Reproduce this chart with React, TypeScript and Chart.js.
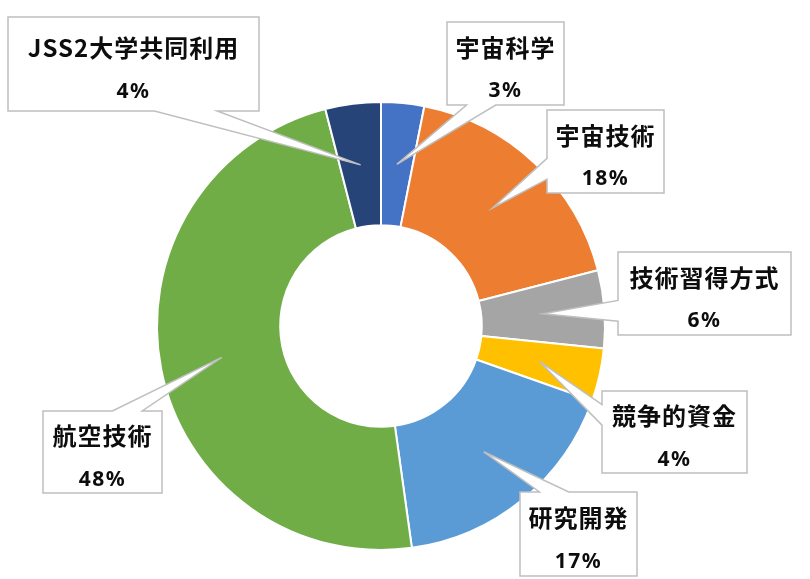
import { useEffect, useRef } from "react";
import { Chart, registerables } from "chart.js";

Chart.register(...registerables);

const categories = ["宇宙科学", "宇宙技術", "技術習得方式", "競争的資金", "研究開発", "航空技術", "JSS2大学共同利用"];
const shares = [3.1, 17.9, 5.6, 3.8, 17.4, 48.2, 4.0];
const colors = ["#4472C4", "#ED7D31", "#A5A5A5", "#FFC000", "#5B9BD5", "#70AD47", "#264478"];

// callout boxes (left, top, width, height) in canvas px, same order as categories
const calloutBoxes = [
  [447, 22, 117, 83],
  [547, 110, 117, 83],
  [618, 252, 173, 83],
  [602, 391, 145, 82],
  [520, 492, 117, 84],
  [43, 411, 119, 82],
  [8, 17, 251, 94],
];

// office-style wedge callout: rectangle with a pointer towards the slice centre
const calloutPlugin = {
  id: "callouts",
  afterDatasetsDraw(chart: any) {
    const ctx = chart.ctx as CanvasRenderingContext2D;
    const meta = chart.getDatasetMeta(0);
    const values = chart.data.datasets[0].data as number[];
    const total = values.reduce((a, b) => a + b, 0);

    meta.data.forEach((arc: any, i: number) => {
      const tip = arc.getCenterPoint();
      const [l, t, w, h] = calloutBoxes[i];
      const r = l + w;
      const b = t + h;
      const hc = l + w / 2;
      const vc = t + h / 2;
      const dx = tip.x - hc;
      const dy = tip.y - vc;
      const vertical = Math.abs(dy) > Math.abs((dx * h) / w);
      const x1 = l + (w * (dx > 0 ? 7 : 2)) / 12;
      const x2 = l + (w * (dx > 0 ? 10 : 5)) / 12;
      const y1 = t + (h * (dy > 0 ? 7 : 2)) / 12;
      const y2 = t + (h * (dy > 0 ? 10 : 5)) / 12;

      ctx.save();
      ctx.beginPath();
      ctx.moveTo(l, t);
      if (vertical && dy < 0) {
        ctx.lineTo(x1, t);
        ctx.lineTo(tip.x, tip.y);
        ctx.lineTo(x2, t);
      }
      ctx.lineTo(r, t);
      if (!vertical && dx > 0) {
        ctx.lineTo(r, y1);
        ctx.lineTo(tip.x, tip.y);
        ctx.lineTo(r, y2);
      }
      ctx.lineTo(r, b);
      if (vertical && dy > 0) {
        ctx.lineTo(x2, b);
        ctx.lineTo(tip.x, tip.y);
        ctx.lineTo(x1, b);
      }
      ctx.lineTo(l, b);
      if (!vertical && dx < 0) {
        ctx.lineTo(l, y2);
        ctx.lineTo(tip.x, tip.y);
        ctx.lineTo(l, y1);
      }
      ctx.closePath();
      ctx.fillStyle = "#ffffff";
      ctx.fill();
      ctx.strokeStyle = "#bfbfbf";
      ctx.lineWidth = 1.5;
      ctx.stroke();

      ctx.fillStyle = "#0d0d0d";
      ctx.textAlign = "center";
      ctx.textBaseline = "middle";
      (ctx as any).letterSpacing = "1px";
      ctx.font = 'bold 24px "Noto Sans CJK JP", sans-serif';
      ctx.fillText(chart.data.labels[i], hc, vc - 16);
      (ctx as any).letterSpacing = "1.5px";
      ctx.font = 'bold 21px "Noto Sans", sans-serif';
      ctx.textBaseline = "alphabetic";
      ctx.fillText(`${Math.round((values[i] / total) * 100)}%`, hc, vc + 33.5);
      ctx.restore();
    });
  },
};

export default function App() {
  const canvasRef = useRef<HTMLCanvasElement | null>(null);
  const chartRef = useRef<Chart | null>(null);

  useEffect(() => {
    document.body.style.margin = "0";
    if (!canvasRef.current) return;
    const ctx = canvasRef.current.getContext("2d");
    if (!ctx) return;

    if (chartRef.current) chartRef.current.destroy();

    chartRef.current = new Chart(ctx, {
      type: "doughnut",
      data: {
        labels: categories,
        datasets: [
          {
            data: shares,
            backgroundColor: colors,
            borderColor: "#ffffff",
            borderWidth: 2,
          },
        ],
      },
      options: {
        responsive: true,
        maintainAspectRatio: false,
        animation: false,
        cutout: "45%",
        layout: { padding: { top: 101, bottom: 28, left: 156, right: 204 } },
        plugins: {
          legend: { display: false },
          tooltip: { enabled: false },
        },
      },
      plugins: [calloutPlugin],
    });

    return () => chartRef.current?.destroy();
  }, []);

  return (
    <div style={{ position: "relative", width: 810, height: 579, background: "#ffffff" }}>
      <canvas ref={canvasRef} />
    </div>
  );
}
